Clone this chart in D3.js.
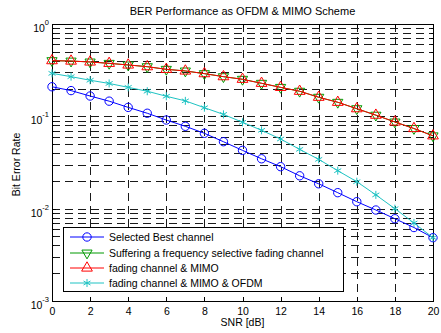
<meta charset="utf-8">
<script src="https://cdn.jsdelivr.net/npm/d3@7"></script>
<style>
body { margin:0; background:white; overflow:hidden; }
text { font-family: "Liberation Sans", Arial, sans-serif; }
</style>
<body>
<div id="chart"></div>
<script>
// SNR axis, dB
var snr = d3.range(0, 21);
var best = [0.209,0.190,0.166,0.146,0.125,0.108,0.0912,0.0780,0.0655,0.0531,0.0428,
            0.0347,0.0285,0.0227,0.0186,0.0149,0.0119,0.00967,0.00778,0.00625,0.00485];
var selective = [0.401,0.397,0.388,0.375,0.360,0.345,0.323,0.310,0.290,0.269,0.252,
                 0.228,0.206,0.187,0.161,0.142,0.121,0.103,0.0869,0.0738,0.0615];
var mimo = [0.401,0.397,0.388,0.375,0.360,0.345,0.323,0.310,0.290,0.269,0.252,
            0.228,0.206,0.187,0.161,0.142,0.121,0.103,0.0869,0.0738,0.0615];
var ofdm = [0.292,0.269,0.246,0.227,0.206,0.187,0.165,0.147,0.124,0.105,0.0862,
            0.0706,0.0568,0.0439,0.0342,0.0258,0.0196,0.0141,0.0100,0.0070,0.00485];
var xTicks = [0,2,4,6,8,10,12,14,16,18,20];
var yTicks = [1e-3,1e-2,1e-1,1];
var yExp = ["-3","-2","-1","0"];
var names = ["Selected Best channel","Suffering a frequency selective fading channel",
             "fading channel & MIMO","fading channel & MIMO & OFDM"];

var width = 441, height = 333,
    pL = 52, pR = 433, pT = 24, pB = 301;

var svg = d3.select('#chart').append('svg')
            .attr('width', width).attr('height', height)
            .style('background', 'white');

var x = d3.scaleLinear().domain([0, 20]).range([pL, pR]);
var y = d3.scaleLog().domain([1e-3, 1]).range([pB, pT]);

// minor + major grid for log axis
var yGrid = [];
[1e-3,1e-2,1e-1].forEach(function(d) {
  for (var k = 1; k <= 10; k++) yGrid.push(d * k);
});
yGrid = yGrid.filter(function(v){ return v > 1.0001e-3 && v < 0.9999; });

var grid = svg.append('g').attr('stroke', '#1a1a1a').attr('stroke-width', 1)
              .attr('stroke-dasharray', '8,5').attr('shape-rendering', 'crispEdges');
grid.selectAll('line.h').data(yGrid).enter().append('line')
    .attr('x1', pL).attr('x2', pR)
    .attr('y1', function(d){ return Math.round(y(d)) + 0.5; })
    .attr('y2', function(d){ return Math.round(y(d)) + 0.5; });
grid.selectAll('line.v').data(xTicks.slice(1, -1)).enter().append('line')
    .attr('y1', pT).attr('y2', pB)
    .attr('x1', function(d){ return Math.round(x(d)) + 0.5; })
    .attr('x2', function(d){ return Math.round(x(d)) + 0.5; });

// inner ticks
var ticks = svg.append('g').attr('stroke', '#000').attr('shape-rendering', 'crispEdges');
xTicks.forEach(function(d) {
  var px = Math.round(x(d)) + 0.5;
  ticks.append('line').attr('x1', px).attr('x2', px).attr('y1', pB).attr('y2', pB - 4);
  ticks.append('line').attr('x1', px).attr('x2', px).attr('y1', pT).attr('y2', pT + 4);
});
yGrid.concat(yTicks).forEach(function(d) {
  var py = Math.round(y(d)) + 0.5;
  var len = yTicks.indexOf(d) >= 0 ? 4 : 2;
  ticks.append('line').attr('x1', pL).attr('x2', pL + len).attr('y1', py).attr('y2', py);
  ticks.append('line').attr('x1', pR).attr('x2', pR - len).attr('y1', py).attr('y2', py);
});

// axes (labels only)
var xAxis = svg.append('g').attr('transform', 'translate(0,' + pB + ')')
  .call(d3.axisBottom(x).tickValues(xTicks).tickSize(0).tickPadding(7));
xAxis.select('.domain').remove();
xAxis.selectAll('text').attr('font-size', 10.5).attr('fill', '#000')
     .style('font-family', '"Liberation Sans", Arial, sans-serif');

var yAxis = svg.append('g').attr('transform', 'translate(' + pL + ',0)')
  .call(d3.axisLeft(y).tickValues(yTicks).tickSize(0).tickPadding(8).tickFormat(function(){ return ''; }));
yAxis.select('.domain').remove();
yAxis.selectAll('.tick text').each(function(d, i) {
  var t = d3.select(this).attr('font-size', 10.5).attr('fill', '#000')
            .style('font-family', '"Liberation Sans", Arial, sans-serif')
            .attr('text-anchor', 'end').attr('dy', '0.7em').attr('x', -3);
  t.append('tspan').text('10');
  t.append('tspan').attr('font-size', 7.5).attr('dy', '-0.9em').text(yExp[i]);
});

// frame
svg.append('rect').attr('x', pL + 0.5).attr('y', pT + 0.5)
   .attr('width', pR - pL).attr('height', pB - pT)
   .attr('fill', 'none').attr('stroke', '#000').attr('shape-rendering', 'crispEdges');

// series
var series = [
  {vals: best, color: '#0000ff', sym: d3.symbolCircle, size: 55, fill: 'none', rot: 0},
  {vals: selective, color: '#009900', sym: d3.symbolTriangle, size: 45, fill: 'none', rot: 180},
  {vals: mimo, color: '#ff0000', sym: d3.symbolTriangle, size: 50, fill: 'none', rot: 0},
  {vals: ofdm, color: '#1fc3c3', sym: d3.symbolAsterisk, size: 45, fill: 'none', rot: 0}
];

var line = d3.line()
  .x(function(d){ return x(d[0]); })
  .y(function(d){ return y(d[1]); });

series.forEach(function(s) {
  var pts = snr.map(function(v, i){ return [v, s.vals[i]]; });
  svg.append('path').datum(pts).attr('d', line)
     .attr('fill', 'none').attr('stroke', s.color).attr('stroke-width', 1);
  svg.append('g').selectAll('path').data(pts).enter().append('path')
     .attr('d', d3.symbol().type(s.sym).size(s.size))
     .attr('transform', function(d){
        return 'translate(' + x(d[0]) + ',' + y(d[1]) + ') rotate(' + s.rot + ')';
     })
     .attr('fill', s.fill).attr('stroke', s.color).attr('stroke-width', 1);
});

// title + labels
svg.append('text').attr('x', (pL + pR) / 2).attr('y', 15)
   .attr('text-anchor', 'middle').attr('font-size', 11).text('BER Performance as OFDM & MIMO Scheme');
svg.append('text').attr('x', (pL + pR) / 2).attr('y', 326)
   .attr('text-anchor', 'middle').attr('font-size', 10.5).text('SNR [dB]');
svg.append('text').attr('transform', 'translate(20,' + ((pT + pB) / 2 + 2) + ') rotate(-90)')
   .attr('text-anchor', 'middle').attr('font-size', 10.5).text('Bit Error Rate');

// legend
var lg = svg.append('g');
lg.append('rect').attr('x', 63.5).attr('y', 227.5).attr('width', 280).attr('height', 64)
  .attr('fill', 'white').attr('stroke', '#000').attr('shape-rendering', 'crispEdges');
var rowY = [237, 253, 268, 283];
series.forEach(function(s, i) {
  var g = lg.append('g').attr('transform', 'translate(0,' + rowY[i] + ')');
  g.append('line').attr('x1', 70).attr('x2', 104).attr('y1', 0).attr('y2', 0)
   .attr('stroke', s.color);
  g.append('path').attr('d', d3.symbol().type(s.sym).size(s.size))
   .attr('transform', 'translate(87,0) rotate(' + s.rot + ')')
   .attr('fill', s.fill).attr('stroke', s.color);
  g.append('text').attr('x', 109).attr('y', 4).attr('font-size', 10.5).text(names[i]);
});
</script>
</body>
